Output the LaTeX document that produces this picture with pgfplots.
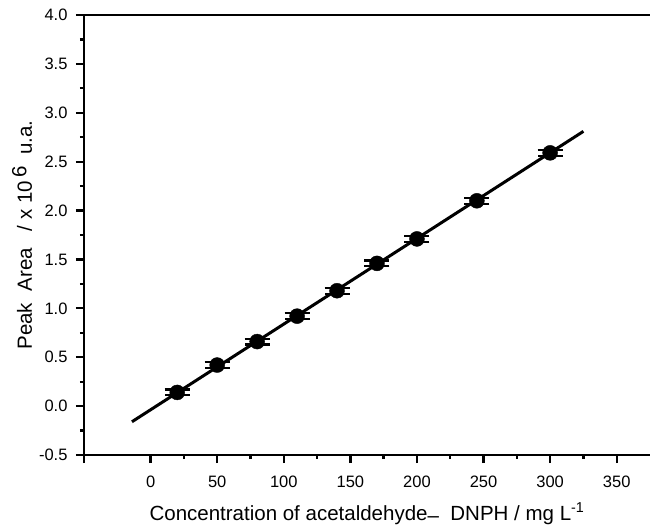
\documentclass[border=0pt]{standalone}
\usepackage{pgfplots}
\pgfplotsset{compat=1.18}
\usepackage{fontspec}
\setmainfont{Liberation Sans}
\newcommand{\tickfont}{\fontsize{16.5}{18}\selectfont}

\begin{document}
\begin{tikzpicture}
\begin{axis}[
    at={(0pt,0pt)}, anchor=south west,
    scale only axis,
    width=566pt, height=440pt,
    xmin=-50, xmax=375,
    ymin=-0.5, ymax=4.0,
    axis x line=bottom, axis y line=left,
    axis line style={-, line width=2.2pt},
    xtick={0,50,100,150,200,250,300,350},
    extra x ticks={-50}, extra x tick labels={},
    ytick={-0.5,0,0.5,1,1.5,2,2.5,3,3.5,4},
    minor x tick num=1, minor y tick num=1,
    tick align=outside,
    major tick length=8pt, minor tick length=4pt,
    major tick style={line width=2.3pt, black},
    minor tick style={line width=2.3pt, black},
    xticklabel={\tickfont\pgfmathprintnumber[assume math mode=true]{\tick}},
    yticklabel={\tickfont\pgfmathprintnumber[assume math mode=true,fixed,fixed zerofill,precision=1]{\tick}},
    xticklabel style={yshift=-9pt},
    yticklabel style={xshift=-5pt},
    xlabel={Concentration of acetaldehyde\raisebox{-0.25ex}{–}\ \ DNPH / mg L\textsuperscript{-1}},
    ylabel={Peak\ \ Area\ \ \ / x 10\,\raisebox{0.5ex}{6}\ \ u.a.},
    label style={font=\fontsize{20.5}{24}\selectfont},
    xlabel style={at={(rel axis cs:0.5,0)}, anchor=base, yshift=-65pt},
    ylabel style={at={(rel axis cs:0,0.5)}, anchor=center, yshift=62pt},
    clip=false,
]
\draw[line width=2.2pt] (rel axis cs:0,1) -- (rel axis cs:1.05,1);
\draw[line width=2.2pt] (rel axis cs:1,0) -- (rel axis cs:1.05,0);
\addplot[black, line width=3pt] coordinates {(-14,-0.16) (325,2.81)};
\addplot[black, only marks, mark=*, mark size=7.5pt,
    error bars/.cd, y dir=both, y fixed=0.03,
    error bar style={line width=2pt, black},
    error mark options={rotate=90, mark size=12.5pt, line width=2.2pt, black}]
    coordinates {
    (20,0.14) (50,0.42) (80,0.66) (110,0.92) (140,1.18)
    (170,1.46) (200,1.71) (245,2.10) (300,2.59)
    };
\end{axis}
\pgfresetboundingbox
\path[use as bounding box] (-84pt,-72pt) rectangle (566pt,455pt);
\end{tikzpicture}
\end{document}
